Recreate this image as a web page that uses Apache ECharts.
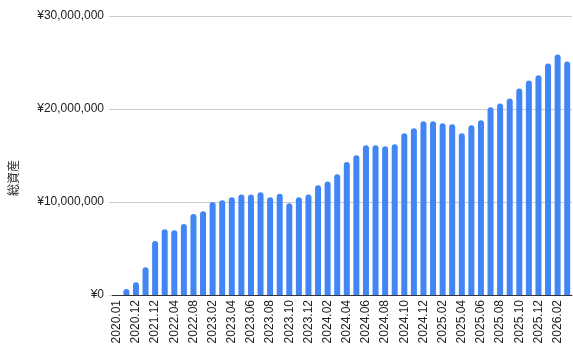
<!DOCTYPE html>
<html><head><meta charset="utf-8">
<script src="https://cdn.jsdelivr.net/npm/echarts@6/dist/echarts.min.js"></script>
<style>html,body{margin:0;padding:0;background:#fff}#c{width:573px;height:355px}</style>
</head><body><div id="c"></div>
<script>
const categories = ['2020.01','2020.06','2020.12','2021.06','2021.12','2022.02','2022.04','2022.06','2022.08','2022.12',
 '2023.02','2023.03','2023.04','2023.05','2023.06','2023.07','2023.08','2023.09','2023.10','2023.11','2023.12',
 '2024.01','2024.02','2024.03','2024.04','2024.05','2024.06','2024.07','2024.08','2024.09','2024.10','2024.11','2024.12',
 '2025.01','2025.02','2025.03','2025.04','2025.05','2025.06','2025.07','2025.08','2025.09','2025.10','2025.11','2025.12',
 '2026.01','2026.02','2026.03'];
const totalAssets = [0,650000,1370000,2980000,5800000,7060000,6960000,7630000,8700000,9000000,
 10000000,10200000,10500000,10800000,10800000,11040000,10500000,10900000,9860000,10500000,10800000,
 11800000,12200000,12980000,14290000,15040000,16100000,16100000,16000000,16200000,17390000,17930000,18680000,
 18680000,18460000,18360000,17390000,18250000,18790000,20180000,20600000,21140000,22200000,23070000,23640000,
 24890000,25860000,25100000];
const yTicks = [0,10000000,20000000,30000000];
const yTitle = '総資産';

const chart = echarts.init(document.getElementById('c'));
const fmt = v => '¥' + v.toLocaleString('en-US');
chart.setOption({
  animation:false,
  textStyle:{fontFamily:'Liberation Sans, Arial, sans-serif'},
  grid:{left:112,right:1,top:16,bottom:60},
  graphic:[{type:'text',left:7,top:160,rotation:Math.PI/2,style:{text:yTitle,fontSize:12,fill:'#222',fontFamily:'Noto Sans CJK JP'},
    x:0}],
  xAxis:{type:'category',data:categories,
    axisLine:{lineStyle:{color:'#333'}},axisTick:{show:false},
    axisLabel:{rotate:90,interval:1,fontSize:12,color:'#222',margin:5}},
  yAxis:{type:'value',min:yTicks[0],max:yTicks[yTicks.length-1],interval:10000000,
    axisLine:{show:false},axisTick:{show:true,length:3,lineStyle:{color:'#ccc'}},
    splitLine:{lineStyle:{color:'#ccc'}},
    axisLabel:{formatter:fmt,fontSize:12,color:'#222',margin:8}},
  series:[{type:'bar',data:totalAssets,barWidth:6,
    itemStyle:{color:'#4285F4',borderRadius:[3,3,0,0]}}]
});
</script></body></html>
